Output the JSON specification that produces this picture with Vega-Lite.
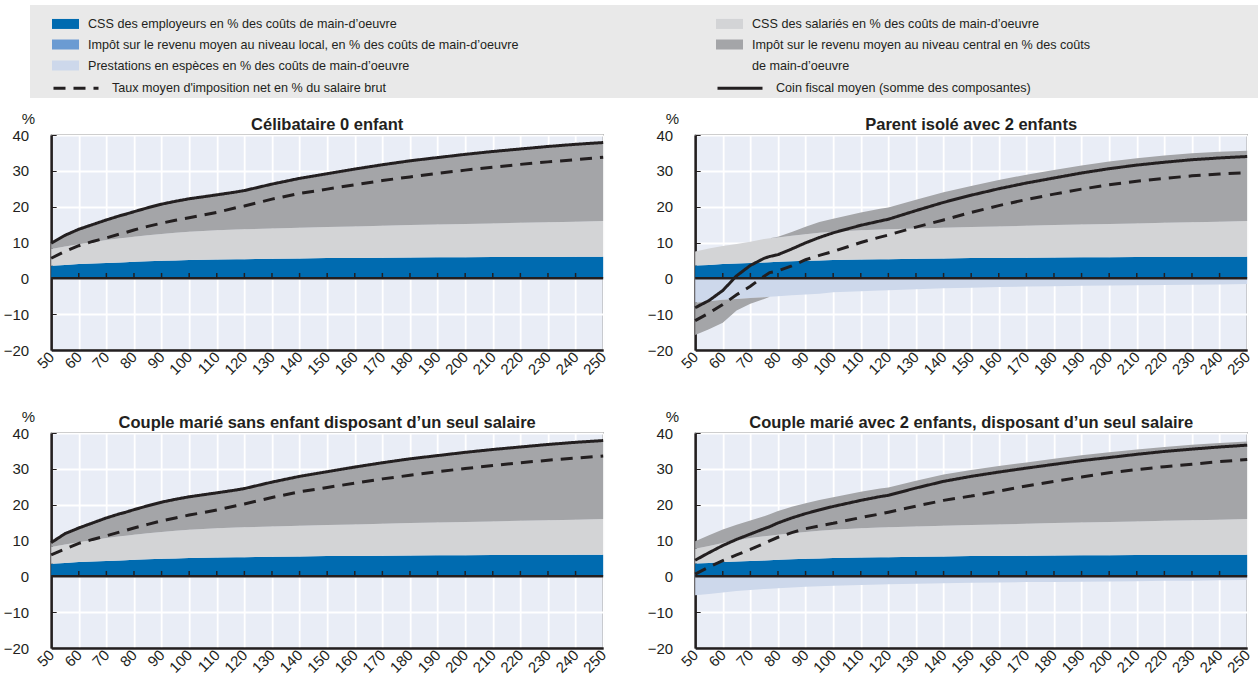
{
  "$schema": "https://vega.github.io/schema/vega-lite/v6.json",
  "background": "white",
  "padding": {"left": 2, "top": 5, "right": 5, "bottom": 5},
  "spacing": 12,
  "center": true,
  "config": {
    "font": "Liberation Sans",
    "view": {"stroke": "#3a3a3a", "strokeWidth": 1.3, "fill": "#e9edf6"},
    "axis": {
      "labelFont": "Liberation Sans", "labelFontSize": 15, "labelColor": "#231f20",
      "gridColor": "#ffffff", "gridWidth": 1.8, "gridOpacity": 1,
      "domainColor": "#231f20", "domainWidth": 2.5, "tickColor": "#231f20",
      "titleFont": "Liberation Sans", "titleFontSize": 15, "titleFontWeight": "normal", "titleColor": "#231f20"
    },
    "axisX": {"tickCount": 20, "labelAngle": -45, "labelAlign": "right", "labelBaseline": "middle", "labelPadding": 4, "ticks": false, "grid": true, "labelFlush": false, "labelOverlap": false},
    "axisY": {"tickCount": 6, "tickSize": -5, "labelPadding": 27.5, "grid": true, "labelOverlap": false,
      "titleAngle": 0, "titleX": -30, "titleY": -12, "titleAlign": "left", "titleBaseline": "alphabetic"},
    "legend": {"labelFont": "Liberation Sans", "labelFontSize": 12.6, "labelColor": "#231f20", "labelLimit": 0, "padding": 0}
  },
  "vconcat": [
    {
      "width": 1245, "height": 93,
      "view": {"fill": "#e9e9e9", "stroke": null},
      "data": {"values": []},
      "mark": "point"
    },
    {
      "data": {"values": [
        {"p":1,"salaire":50,"cssEmp":3.5,"cssSal":4.7,"benef":0,"impC":1.6,"impCneg":0,"coin":9.8,"taux":5.6},
        {"p":1,"salaire":55,"cssEmp":3.75,"cssSal":5.15,"benef":0,"impC":3.1,"impCneg":0,"coin":12.0,"taux":7.5},
        {"p":1,"salaire":60,"cssEmp":4.0,"cssSal":5.5,"benef":0,"impC":4.2,"impCneg":0,"coin":13.7,"taux":9.1},
        {"p":1,"salaire":65,"cssEmp":4.15,"cssSal":5.95,"benef":0,"impC":4.9,"impCneg":0,"coin":15.0,"taux":10.3},
        {"p":1,"salaire":70,"cssEmp":4.3,"cssSal":6.4,"benef":0,"impC":5.6,"impCneg":0,"coin":16.3,"taux":11.3},
        {"p":1,"salaire":75,"cssEmp":4.45,"cssSal":6.75,"benef":0,"impC":6.3,"impCneg":0,"coin":17.5,"taux":12.4},
        {"p":1,"salaire":77,"cssEmp":4.5,"cssSal":6.85,"benef":0,"impC":6.55,"impCneg":0,"coin":17.9,"taux":12.8},
        {"p":1,"salaire":80,"cssEmp":4.6,"cssSal":7.0,"benef":0,"impC":7.0,"impCneg":0,"coin":18.6,"taux":13.5},
        {"p":1,"salaire":85,"cssEmp":4.75,"cssSal":7.25,"benef":0,"impC":7.7,"impCneg":0,"coin":19.7,"taux":14.5},
        {"p":1,"salaire":90,"cssEmp":4.9,"cssSal":7.5,"benef":0,"impC":8.3,"impCneg":0,"coin":20.7,"taux":15.4},
        {"p":1,"salaire":95,"cssEmp":5.0,"cssSal":7.7,"benef":0,"impC":8.8,"impCneg":0,"coin":21.5,"taux":16.2},
        {"p":1,"salaire":100,"cssEmp":5.1,"cssSal":7.9,"benef":0,"impC":9.2,"impCneg":0,"coin":22.2,"taux":16.9},
        {"p":1,"salaire":110,"cssEmp":5.25,"cssSal":8.15,"benef":0,"impC":9.9,"impCneg":0,"coin":23.3,"taux":18.4},
        {"p":1,"salaire":117,"cssEmp":5.32,"cssSal":8.28,"benef":0,"impC":10.5,"impCneg":0,"coin":24.1,"taux":19.7},
        {"p":1,"salaire":120,"cssEmp":5.35,"cssSal":8.35,"benef":0,"impC":10.8,"impCneg":0,"coin":24.5,"taux":20.2},
        {"p":1,"salaire":130,"cssEmp":5.45,"cssSal":8.45,"benef":0,"impC":12.4,"impCneg":0,"coin":26.3,"taux":22.1},
        {"p":1,"salaire":140,"cssEmp":5.55,"cssSal":8.55,"benef":0,"impC":13.8,"impCneg":0,"coin":27.9,"taux":23.7},
        {"p":1,"salaire":150,"cssEmp":5.65,"cssSal":8.65,"benef":0,"impC":14.9,"impCneg":0,"coin":29.2,"taux":24.9},
        {"p":1,"salaire":160,"cssEmp":5.7,"cssSal":8.8,"benef":0,"impC":16.0,"impCneg":0,"coin":30.5,"taux":26.1},
        {"p":1,"salaire":170,"cssEmp":5.75,"cssSal":8.95,"benef":0,"impC":17.0,"impCneg":0,"coin":31.7,"taux":27.3},
        {"p":1,"salaire":180,"cssEmp":5.8,"cssSal":9.05,"benef":0,"impC":17.95,"impCneg":0,"coin":32.8,"taux":28.3},
        {"p":1,"salaire":190,"cssEmp":5.85,"cssSal":9.15,"benef":0,"impC":18.7,"impCneg":0,"coin":33.7,"taux":29.3},
        {"p":1,"salaire":200,"cssEmp":5.9,"cssSal":9.25,"benef":0,"impC":19.45,"impCneg":0,"coin":34.6,"taux":30.2},
        {"p":1,"salaire":210,"cssEmp":5.92,"cssSal":9.38,"benef":0,"impC":20.1,"impCneg":0,"coin":35.4,"taux":31.0},
        {"p":1,"salaire":220,"cssEmp":5.95,"cssSal":9.55,"benef":0,"impC":20.6,"impCneg":0,"coin":36.1,"taux":31.8},
        {"p":1,"salaire":230,"cssEmp":5.97,"cssSal":9.68,"benef":0,"impC":21.15,"impCneg":0,"coin":36.8,"taux":32.5},
        {"p":1,"salaire":240,"cssEmp":6.0,"cssSal":9.8,"benef":0,"impC":21.6,"impCneg":0,"coin":37.4,"taux":33.1},
        {"p":1,"salaire":250,"cssEmp":6.0,"cssSal":10.0,"benef":0,"impC":21.9,"impCneg":0,"coin":37.9,"taux":33.8},

        {"p":2,"salaire":50,"cssEmp":3.6,"cssSal":3.9,"benef":-6.8,"impC":0,"impCneg":-9.0,"coin":-8.2,"taux":-11.8},
        {"p":2,"salaire":55,"cssEmp":3.75,"cssSal":4.55,"benef":-6.4,"impC":0,"impCneg":-7.8,"coin":-6.2,"taux":-9.7},
        {"p":2,"salaire":60,"cssEmp":4.0,"cssSal":5.0,"benef":-6.0,"impC":0,"impCneg":-6.4,"coin":-3.4,"taux":-7.3},
        {"p":2,"salaire":65,"cssEmp":4.15,"cssSal":5.45,"benef":-5.75,"impC":0,"impCneg":-3.2,"coin":0.7,"taux":-4.6},
        {"p":2,"salaire":70,"cssEmp":4.3,"cssSal":5.9,"benef":-5.5,"impC":0,"impCneg":-1.6,"coin":3.6,"taux":-2.2},
        {"p":2,"salaire":75,"cssEmp":4.45,"cssSal":6.55,"benef":-5.25,"impC":0,"impCneg":-0.5,"coin":5.6,"taux":0.6},
        {"p":2,"salaire":77,"cssEmp":4.5,"cssSal":6.7,"benef":-5.15,"impC":0,"impCneg":-0.01,"coin":6.1,"taux":1.6},
        {"p":2,"salaire":80,"cssEmp":4.6,"cssSal":6.8,"benef":-5.0,"impC":0.2,"impCneg":0,"coin":6.6,"taux":2.1},
        {"p":2,"salaire":85,"cssEmp":4.75,"cssSal":7.15,"benef":-4.75,"impC":1.05,"impCneg":0,"coin":8.2,"taux":3.5},
        {"p":2,"salaire":90,"cssEmp":4.9,"cssSal":7.4,"benef":-4.5,"impC":2.1,"impCneg":0,"coin":9.9,"taux":5.2},
        {"p":2,"salaire":95,"cssEmp":5.0,"cssSal":7.7,"benef":-4.3,"impC":3.0,"impCneg":0,"coin":11.4,"taux":6.4},
        {"p":2,"salaire":100,"cssEmp":5.1,"cssSal":7.9,"benef":-3.9,"impC":3.6,"impCneg":0,"coin":12.7,"taux":7.5},
        {"p":2,"salaire":110,"cssEmp":5.25,"cssSal":8.15,"benef":-3.6,"impC":5.0,"impCneg":0,"coin":14.8,"taux":10.0},
        {"p":2,"salaire":117,"cssEmp":5.32,"cssSal":8.28,"benef":-3.4,"impC":5.8,"impCneg":0,"coin":16.0,"taux":11.5},
        {"p":2,"salaire":120,"cssEmp":5.35,"cssSal":8.35,"benef":-3.3,"impC":6.1,"impCneg":0,"coin":16.5,"taux":12.1},
        {"p":2,"salaire":130,"cssEmp":5.45,"cssSal":8.45,"benef":-3.05,"impC":8.05,"impCneg":0,"coin":18.9,"taux":14.3},
        {"p":2,"salaire":140,"cssEmp":5.55,"cssSal":8.55,"benef":-2.8,"impC":9.9,"impCneg":0,"coin":21.2,"taux":16.3},
        {"p":2,"salaire":150,"cssEmp":5.65,"cssSal":8.65,"benef":-2.6,"impC":11.5,"impCneg":0,"coin":23.2,"taux":18.4},
        {"p":2,"salaire":160,"cssEmp":5.7,"cssSal":8.8,"benef":-2.45,"impC":12.95,"impCneg":0,"coin":25.0,"taux":20.3},
        {"p":2,"salaire":170,"cssEmp":5.75,"cssSal":8.95,"benef":-2.3,"impC":14.2,"impCneg":0,"coin":26.6,"taux":22.0},
        {"p":2,"salaire":180,"cssEmp":5.8,"cssSal":9.05,"benef":-2.2,"impC":15.35,"impCneg":0,"coin":28.0,"taux":23.5},
        {"p":2,"salaire":190,"cssEmp":5.85,"cssSal":9.15,"benef":-2.1,"impC":16.5,"impCneg":0,"coin":29.4,"taux":24.9},
        {"p":2,"salaire":200,"cssEmp":5.9,"cssSal":9.25,"benef":-2.0,"impC":17.45,"impCneg":0,"coin":30.6,"taux":26.1},
        {"p":2,"salaire":210,"cssEmp":5.92,"cssSal":9.38,"benef":-1.9,"impC":18.2,"impCneg":0,"coin":31.6,"taux":27.1},
        {"p":2,"salaire":220,"cssEmp":5.95,"cssSal":9.55,"benef":-1.85,"impC":18.75,"impCneg":0,"coin":32.4,"taux":27.9},
        {"p":2,"salaire":230,"cssEmp":5.97,"cssSal":9.68,"benef":-1.8,"impC":19.25,"impCneg":0,"coin":33.1,"taux":28.6},
        {"p":2,"salaire":240,"cssEmp":6.0,"cssSal":9.8,"benef":-1.7,"impC":19.5,"impCneg":0,"coin":33.6,"taux":29.1},
        {"p":2,"salaire":250,"cssEmp":6.0,"cssSal":10.0,"benef":-1.6,"impC":19.6,"impCneg":0,"coin":34.0,"taux":29.5},

        {"p":3,"salaire":50,"cssEmp":3.5,"cssSal":4.7,"benef":0,"impC":1.2,"impCneg":0,"coin":9.4,"taux":6.0},
        {"p":3,"salaire":55,"cssEmp":3.75,"cssSal":5.15,"benef":0,"impC":3.0,"impCneg":0,"coin":11.9,"taux":7.6},
        {"p":3,"salaire":60,"cssEmp":4.0,"cssSal":5.5,"benef":0,"impC":4.0,"impCneg":0,"coin":13.5,"taux":9.2},
        {"p":3,"salaire":65,"cssEmp":4.15,"cssSal":5.95,"benef":0,"impC":4.8,"impCneg":0,"coin":14.9,"taux":10.3},
        {"p":3,"salaire":70,"cssEmp":4.3,"cssSal":6.4,"benef":0,"impC":5.6,"impCneg":0,"coin":16.3,"taux":11.3},
        {"p":3,"salaire":75,"cssEmp":4.45,"cssSal":6.75,"benef":0,"impC":6.3,"impCneg":0,"coin":17.5,"taux":12.4},
        {"p":3,"salaire":77,"cssEmp":4.5,"cssSal":6.85,"benef":0,"impC":6.55,"impCneg":0,"coin":17.9,"taux":12.8},
        {"p":3,"salaire":80,"cssEmp":4.6,"cssSal":7.0,"benef":0,"impC":7.0,"impCneg":0,"coin":18.6,"taux":13.5},
        {"p":3,"salaire":85,"cssEmp":4.75,"cssSal":7.25,"benef":0,"impC":7.7,"impCneg":0,"coin":19.7,"taux":14.5},
        {"p":3,"salaire":90,"cssEmp":4.9,"cssSal":7.5,"benef":0,"impC":8.3,"impCneg":0,"coin":20.7,"taux":15.5},
        {"p":3,"salaire":95,"cssEmp":5.0,"cssSal":7.7,"benef":0,"impC":8.8,"impCneg":0,"coin":21.5,"taux":16.3},
        {"p":3,"salaire":100,"cssEmp":5.1,"cssSal":7.9,"benef":0,"impC":9.2,"impCneg":0,"coin":22.2,"taux":17.1},
        {"p":3,"salaire":110,"cssEmp":5.25,"cssSal":8.15,"benef":0,"impC":9.9,"impCneg":0,"coin":23.3,"taux":18.5},
        {"p":3,"salaire":117,"cssEmp":5.32,"cssSal":8.28,"benef":0,"impC":10.5,"impCneg":0,"coin":24.1,"taux":19.7},
        {"p":3,"salaire":120,"cssEmp":5.35,"cssSal":8.35,"benef":0,"impC":10.8,"impCneg":0,"coin":24.5,"taux":20.2},
        {"p":3,"salaire":130,"cssEmp":5.45,"cssSal":8.45,"benef":0,"impC":12.4,"impCneg":0,"coin":26.3,"taux":22.0},
        {"p":3,"salaire":140,"cssEmp":5.55,"cssSal":8.55,"benef":0,"impC":13.8,"impCneg":0,"coin":27.9,"taux":23.6},
        {"p":3,"salaire":150,"cssEmp":5.65,"cssSal":8.65,"benef":0,"impC":14.9,"impCneg":0,"coin":29.2,"taux":24.8},
        {"p":3,"salaire":160,"cssEmp":5.7,"cssSal":8.8,"benef":0,"impC":16.0,"impCneg":0,"coin":30.5,"taux":26.0},
        {"p":3,"salaire":170,"cssEmp":5.75,"cssSal":8.95,"benef":0,"impC":17.0,"impCneg":0,"coin":31.7,"taux":27.2},
        {"p":3,"salaire":180,"cssEmp":5.8,"cssSal":9.05,"benef":0,"impC":17.95,"impCneg":0,"coin":32.8,"taux":28.2},
        {"p":3,"salaire":190,"cssEmp":5.85,"cssSal":9.15,"benef":0,"impC":18.7,"impCneg":0,"coin":33.7,"taux":29.2},
        {"p":3,"salaire":200,"cssEmp":5.9,"cssSal":9.25,"benef":0,"impC":19.45,"impCneg":0,"coin":34.6,"taux":30.1},
        {"p":3,"salaire":210,"cssEmp":5.92,"cssSal":9.38,"benef":0,"impC":20.1,"impCneg":0,"coin":35.4,"taux":30.9},
        {"p":3,"salaire":220,"cssEmp":5.95,"cssSal":9.55,"benef":0,"impC":20.6,"impCneg":0,"coin":36.1,"taux":31.7},
        {"p":3,"salaire":230,"cssEmp":5.97,"cssSal":9.68,"benef":0,"impC":21.15,"impCneg":0,"coin":36.8,"taux":32.4},
        {"p":3,"salaire":240,"cssEmp":6.0,"cssSal":9.8,"benef":0,"impC":21.6,"impCneg":0,"coin":37.4,"taux":33.0},
        {"p":3,"salaire":250,"cssEmp":6.0,"cssSal":10.0,"benef":0,"impC":21.9,"impCneg":0,"coin":37.9,"taux":33.6},

        {"p":4,"salaire":50,"cssEmp":3.6,"cssSal":4.1,"benef":-5.3,"impC":2.1,"impCneg":0,"coin":4.5,"taux":0.6},
        {"p":4,"salaire":55,"cssEmp":3.75,"cssSal":4.75,"benef":-4.9,"impC":3.0,"impCneg":0,"coin":6.6,"taux":2.6},
        {"p":4,"salaire":60,"cssEmp":4.0,"cssSal":5.3,"benef":-4.5,"impC":3.8,"impCneg":0,"coin":8.6,"taux":4.4},
        {"p":4,"salaire":65,"cssEmp":4.15,"cssSal":5.95,"benef":-4.1,"impC":4.3,"impCneg":0,"coin":10.3,"taux":6.0},
        {"p":4,"salaire":70,"cssEmp":4.3,"cssSal":6.4,"benef":-3.8,"impC":4.9,"impCneg":0,"coin":11.8,"taux":7.5},
        {"p":4,"salaire":75,"cssEmp":4.45,"cssSal":6.75,"benef":-3.5,"impC":5.6,"impCneg":0,"coin":13.3,"taux":9.2},
        {"p":4,"salaire":77,"cssEmp":4.5,"cssSal":6.85,"benef":-3.45,"impC":5.95,"impCneg":0,"coin":13.85,"taux":9.9},
        {"p":4,"salaire":80,"cssEmp":4.6,"cssSal":7.0,"benef":-3.3,"impC":6.6,"impCneg":0,"coin":14.9,"taux":10.9},
        {"p":4,"salaire":85,"cssEmp":4.75,"cssSal":7.25,"benef":-3.1,"impC":7.4,"impCneg":0,"coin":16.3,"taux":12.2},
        {"p":4,"salaire":90,"cssEmp":4.9,"cssSal":7.5,"benef":-2.9,"impC":8.0,"impCneg":0,"coin":17.5,"taux":13.3},
        {"p":4,"salaire":95,"cssEmp":5.0,"cssSal":7.7,"benef":-2.75,"impC":8.6,"impCneg":0,"coin":18.55,"taux":14.1},
        {"p":4,"salaire":100,"cssEmp":5.1,"cssSal":7.9,"benef":-2.6,"impC":9.1,"impCneg":0,"coin":19.5,"taux":14.8},
        {"p":4,"salaire":110,"cssEmp":5.25,"cssSal":8.15,"benef":-2.4,"impC":10.2,"impCneg":0,"coin":21.2,"taux":16.4},
        {"p":4,"salaire":117,"cssEmp":5.32,"cssSal":8.28,"benef":-2.25,"impC":10.9,"impCneg":0,"coin":22.25,"taux":17.4},
        {"p":4,"salaire":120,"cssEmp":5.35,"cssSal":8.35,"benef":-2.2,"impC":11.1,"impCneg":0,"coin":22.6,"taux":17.9},
        {"p":4,"salaire":130,"cssEmp":5.45,"cssSal":8.45,"benef":-2.05,"impC":12.8,"impCneg":0,"coin":24.65,"taux":19.6},
        {"p":4,"salaire":140,"cssEmp":5.55,"cssSal":8.55,"benef":-1.9,"impC":14.3,"impCneg":0,"coin":26.5,"taux":21.2},
        {"p":4,"salaire":150,"cssEmp":5.65,"cssSal":8.65,"benef":-1.8,"impC":15.4,"impCneg":0,"coin":27.9,"taux":22.4},
        {"p":4,"salaire":160,"cssEmp":5.7,"cssSal":8.8,"benef":-1.7,"impC":16.3,"impCneg":0,"coin":29.1,"taux":23.8},
        {"p":4,"salaire":170,"cssEmp":5.75,"cssSal":8.95,"benef":-1.6,"impC":17.1,"impCneg":0,"coin":30.2,"taux":25.2},
        {"p":4,"salaire":180,"cssEmp":5.8,"cssSal":9.05,"benef":-1.55,"impC":17.95,"impCneg":0,"coin":31.25,"taux":26.5},
        {"p":4,"salaire":190,"cssEmp":5.85,"cssSal":9.15,"benef":-1.5,"impC":18.8,"impCneg":0,"coin":32.3,"taux":27.7},
        {"p":4,"salaire":200,"cssEmp":5.9,"cssSal":9.25,"benef":-1.45,"impC":19.45,"impCneg":0,"coin":33.15,"taux":28.9},
        {"p":4,"salaire":210,"cssEmp":5.92,"cssSal":9.38,"benef":-1.35,"impC":20.1,"impCneg":0,"coin":34.05,"taux":29.8},
        {"p":4,"salaire":220,"cssEmp":5.95,"cssSal":9.55,"benef":-1.25,"impC":20.6,"impCneg":0,"coin":34.85,"taux":30.6},
        {"p":4,"salaire":230,"cssEmp":5.97,"cssSal":9.68,"benef":-1.2,"impC":21.05,"impCneg":0,"coin":35.5,"taux":31.3},
        {"p":4,"salaire":240,"cssEmp":6.0,"cssSal":9.8,"benef":-1.1,"impC":21.4,"impCneg":0,"coin":36.1,"taux":32.0},
        {"p":4,"salaire":250,"cssEmp":6.0,"cssSal":10.0,"benef":-1.0,"impC":21.6,"impCneg":0,"coin":36.6,"taux":32.6}
      ]},
      "facet": {
        "field": "p", "type": "ordinal", "title": null,
        "header": {
          "labelExpr": "datum.value == 1 ? 'Célibataire 0 enfant' : datum.value == 2 ? 'Parent isolé avec 2 enfants' : datum.value == 3 ? 'Couple marié sans enfant disposant d’un seul salaire' : 'Couple marié avec 2 enfants, disposant d’un seul salaire'",
          "labelFont": "Liberation Sans", "labelFontSize": 16.5, "labelFontWeight": "bold", "labelColor": "#231f20", "labelPadding": -22
        }
      },
      "columns": 2,
      "spacing": {"column": 36, "row": 29},
      "resolve": {"axis": {"x": "independent", "y": "independent"}},
      "spec": {
        "width": 552, "height": 215,
        "layer": [
          {
            "transform": [{"fold": ["benef", "cssEmp", "cssSal", "impC", "impCneg"], "as": ["comp", "val"]}],
            "mark": {"type": "area", "opacity": 1},
            "encoding": {
              "x": {"field": "salaire", "type": "quantitative", "title": null,
                "scale": {"domain": [50, 250], "nice": false, "zero": false}},
              "y": {"field": "val", "type": "quantitative", "stack": "zero", "title": "%",
                "scale": {"domain": [-20, 40], "nice": false}},
              "color": {"field": "comp", "type": "nominal",
                "scale": {"domain": ["cssEmp", "cssSal", "impL", "impC", "benef", "suite", "impCneg"],
                  "range": ["#006bb0", "#d3d4d6", "#6b9bd2", "#a4a5a8", "#cdd8eb", "#e9e9e9", "#a4a5a8"]},
                "legend": {
                  "values": ["cssEmp", "cssSal", "impL", "impC", "benef", "suite"],
                  "title": null, "orient": "none", "direction": "horizontal", "legendX": 22, "legendY": 5,
                  "columns": 2, "columnPadding": 197, "rowPadding": 0,
                  "symbolType": "M-1,-0.37H1V0.37H-1Z", "symbolSize": 729, "symbolStrokeWidth": 0, "symbolOpacity": 1, "labelOffset": 9,
                  "labelExpr": "datum.value == 'cssEmp' ? 'CSS des employeurs en % des coûts de main-d’oeuvre' : datum.value == 'cssSal' ? 'CSS des salariés en % des coûts de main-d’oeuvre' : datum.value == 'impL' ? 'Impôt sur le revenu moyen au niveau local, en % des coûts de main-d’oeuvre' : datum.value == 'impC' ? 'Impôt sur le revenu moyen au niveau central en %  des coûts' : datum.value == 'benef' ? 'Prestations en espèces en % des coûts de main-d’oeuvre' : 'de main-d’oeuvre'"
                }},
              "order": {"field": "comp", "sort": "ascending"}
            }
          },
          {
            "transform": [{"filter": "datum.salaire == 50"}],
            "mark": {"type": "rule", "color": "#231f20", "strokeWidth": 2.5},
            "encoding": {"y": {"datum": 0, "title": "%"}}
          },
          {
            "transform": [{"filter": "datum.salaire % 10 == 0 && datum.salaire > 50 && datum.salaire < 250"}],
            "mark": {"type": "rule", "color": "#231f20", "strokeWidth": 1.5},
            "encoding": {
              "x": {"field": "salaire", "type": "quantitative", "title": null},
              "y": {"datum": 0, "title": "%"},
              "y2": {"datum": 1.5}
            }
          },
          {
            "transform": [{"fold": ["taux", "coin"], "as": ["serie", "tx"]}],
            "mark": {"type": "line", "strokeWidth": 3, "color": "#231f20"},
            "encoding": {
              "x": {"field": "salaire", "type": "quantitative", "title": null},
              "y": {"field": "tx", "type": "quantitative", "title": "%"},
              "strokeDash": {"field": "serie", "type": "nominal",
                "scale": {"domain": ["taux", "coin"], "range": [[12, 8], [1, 0]]},
                "legend": {
                  "title": null, "orient": "none", "direction": "horizontal", "legendX": 22, "legendY": 59,
                  "columns": 2, "columnPadding": 324,
                  "symbolType": "stroke", "symbolSize": 2025, "symbolStrokeWidth": 3, "symbolStrokeColor": "#231f20", "labelOffset": 12,
                  "labelExpr": "datum.value == 'taux' ? \"Taux moyen d'imposition net en % du salaire brut\" : 'Coin fiscal moyen (somme des composantes)'"
                }}
            }
          }
        ]
      }
    }
  ]
}
